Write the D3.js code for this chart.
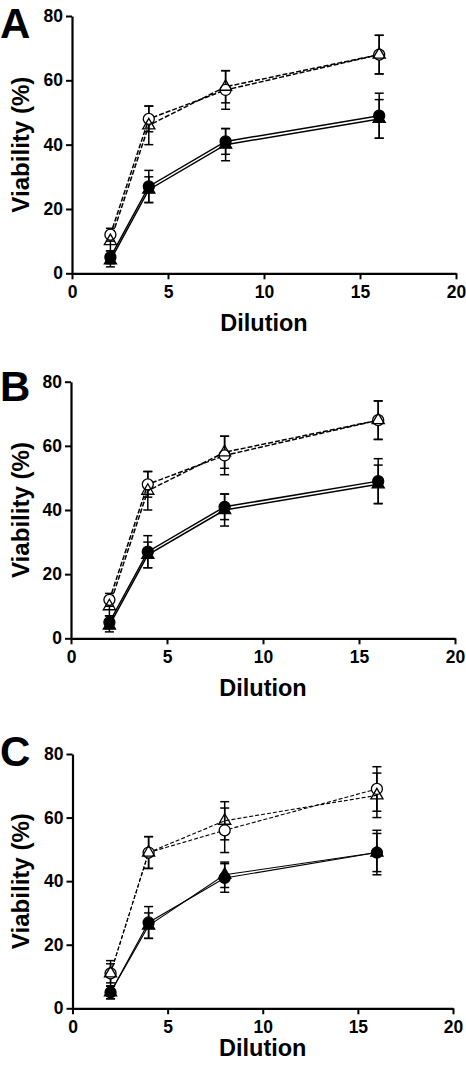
<!DOCTYPE html>
<html><head><meta charset="utf-8">
<script src="https://cdn.jsdelivr.net/npm/d3@7"></script>
<style>body{margin:0;background:#fff}svg{display:block}</style>
</head><body>
<script>
// ---- data ----
const dilutions = [2, 4, 8, 16];
const xTicks = [0, 5, 10, 15, 20];
const yTicks = [0, 20, 40, 60, 80];
const panelLetters = ["A", "B", "C"];

// Panel A
const aFilledCircle = [5, 27, 41, 49];   const aFilledCircleErr = [2, 5, 4, 7];
const aFilledTri    = [4, 26, 40, 48];   const aFilledTriErr    = [2, 4, 5, 6];
const aOpenCircle   = [12, 48, 57, 68];  const aOpenCircleErr   = [2, 4, 6, 6];
const aOpenTri      = [10, 46, 58, 68];  const aOpenTriErr      = [3, 6, 5, 6];
// Panel B
const bFilledCircle = [5, 27, 41, 49];   const bFilledCircleErr = [2, 5, 4, 7];
const bFilledTri    = [4, 26, 40, 48];   const bFilledTriErr    = [2, 4, 5, 6];
const bOpenCircle   = [12, 48, 57, 68];  const bOpenCircleErr   = [2, 4, 6, 6];
const bOpenTri      = [10, 46, 58, 68];  const bOpenTriErr      = [3, 6, 5, 6];
// Panel C
const cFilledCircle = [5, 27, 41, 49];   const cFilledCircleErr = [2, 5, 4.5, 7];
const cFilledTri    = [5, 26, 42, 49];   const cFilledTriErr    = [2, 4, 4, 6];
const cOpenCircle   = [11, 49, 56, 69];  const cOpenCircleErr   = [4, 5, 7, 7];
const cOpenTri      = [11, 49, 59, 67];  const cOpenTriErr      = [3, 5, 6, 7];

const xLabel = "Dilution";
const yLabel = "Viability (%)";

// ---- layout ----
const panels = [
  {letter: panelLetters[0], x0: 72, x1: 456, yTop: 16, yBot: 273.3, letterY: 38, xlOff: 57.5, lw: 1.5, dash: "5,2",
   fc: aFilledCircle, fcE: aFilledCircleErr, ft: aFilledTri, ftE: aFilledTriErr,
   oc: aOpenCircle, ocE: aOpenCircleErr, ot: aOpenTri, otE: aOpenTriErr},
  {letter: panelLetters[1], x0: 71, x1: 455, yTop: 381.7, yBot: 638.3, letterY: 401, xlOff: 57.5, lw: 1.5, dash: "5,2",
   fc: bFilledCircle, fcE: bFilledCircleErr, ft: bFilledTri, ftE: bFilledTriErr,
   oc: bOpenCircle, ocE: bOpenCircleErr, ot: bOpenTri, otE: bOpenTriErr},
  {letter: panelLetters[2], x0: 72.5, x1: 453, yTop: 754, yBot: 1008.3, letterY: 766, xlOff: 47.5, lw: 1.1, dash: "4,2",
   fc: cFilledCircle, fcE: cFilledCircleErr, ft: cFilledTri, ftE: cFilledTriErr,
   oc: cOpenCircle, ocE: cOpenCircleErr, ot: cOpenTri, otE: cOpenTriErr}
];

const svg = d3.select("body").append("svg").attr("width", 466).attr("height", 1068);
const font = "Arial, 'Liberation Sans', Helvetica, sans-serif";

panels.forEach(p => {
  const x = d3.scaleLinear().domain([0, 20]).range([p.x0, p.x1]);
  const y = d3.scaleLinear().domain([0, 80]).range([p.yBot, p.yTop]);
  const g = svg.append("g");

  // axes
  const xa = g.append("g").attr("transform", `translate(0,${p.yBot})`)
    .call(d3.axisBottom(x).tickValues(xTicks).tickSize(6).tickPadding(6).tickSizeOuter(0));
  const ya = g.append("g").attr("transform", `translate(${p.x0},0)`)
    .call(d3.axisLeft(y).tickValues(yTicks).tickSize(6).tickPadding(3).tickSizeOuter(0));
  [xa, ya].forEach(a => {
    a.select(".domain").attr("stroke", "#000").attr("stroke-width", 2.2);
    a.selectAll(".tick line").attr("stroke", "#000").attr("stroke-width", 2);
    a.selectAll(".tick text").attr("fill", "#000").style("font-family", font)
      .style("font-weight", "bold").style("font-size", "17.5px");
  });
  xa.selectAll(".tick text").attr("dy", "0.71em").attr("y", 12);

  // axis labels
  g.append("text").attr("x", (p.x0 + p.x1) / 2).attr("y", p.yBot + p.xlOff)
    .attr("text-anchor", "middle").style("font-family", font).style("font-weight", "bold")
    .style("font-size", "23.5px").text(xLabel);
  g.append("text").attr("transform", `translate(29,${(p.yTop + p.yBot) / 2}) rotate(-90)`)
    .attr("text-anchor", "middle").style("font-family", font).style("font-weight", "bold")
    .style("font-size", "23.5px").attr("textLength", 136).attr("lengthAdjust", "spacingAndGlyphs")
    .text(yLabel);
  // panel letter
  g.append("text").attr("x", 0).attr("y", p.letterY).style("font-family", font)
    .style("font-weight", "bold").style("font-size", "42px").text(p.letter);

  const series = [
    {v: p.oc, e: p.ocE, shape: "circle", filled: false, dash: p.dash},
    {v: p.ot, e: p.otE, shape: "triangle", filled: false, dash: p.dash},
    {v: p.fc, e: p.fcE, shape: "circle", filled: true, dash: null},
    {v: p.ft, e: p.ftE, shape: "triangle", filled: true, dash: null}
  ];
  const line = d3.line().x((d, i) => x(dilutions[i])).y(d => y(d));

  // lines
  series.forEach(s => {
    g.append("path").attr("d", line(s.v)).attr("fill", "none").attr("stroke", "#000")
      .attr("stroke-width", p.lw).attr("stroke-dasharray", s.dash);
  });
  // error bars
  series.forEach(s => {
    s.v.forEach((v, i) => {
      const cx = x(dilutions[i]);
      const lo = y(v - s.e[i]), hi = y(v + s.e[i]);
      g.append("line").attr("x1", cx).attr("x2", cx).attr("y1", lo).attr("y2", hi)
        .attr("stroke", "#000").attr("stroke-width", 1.5);
      [lo, hi].forEach(yy => g.append("line").attr("x1", cx - 4.5).attr("x2", cx + 4.5)
        .attr("y1", yy).attr("y2", yy).attr("stroke", "#000").attr("stroke-width", 1.5));
    });
  });
  // markers
  const circ = d3.symbol().type(d3.symbolCircle).size(Math.PI * 5.5 * 5.5);
  const tri = d3.symbol().type(d3.symbolTriangle).size(64);
  series.forEach(s => {
    s.v.forEach((v, i) => {
      g.append("path").attr("d", s.shape === "circle" ? circ() : tri())
        .attr("transform", `translate(${x(dilutions[i])},${y(v)})`)
        .attr("fill", s.filled ? "#000" : (s.shape === "circle" ? "#fff" : "none"))
        .attr("stroke", "#000").attr("stroke-width", 1.3);
    });
  });
});
</script>
</body></html>
